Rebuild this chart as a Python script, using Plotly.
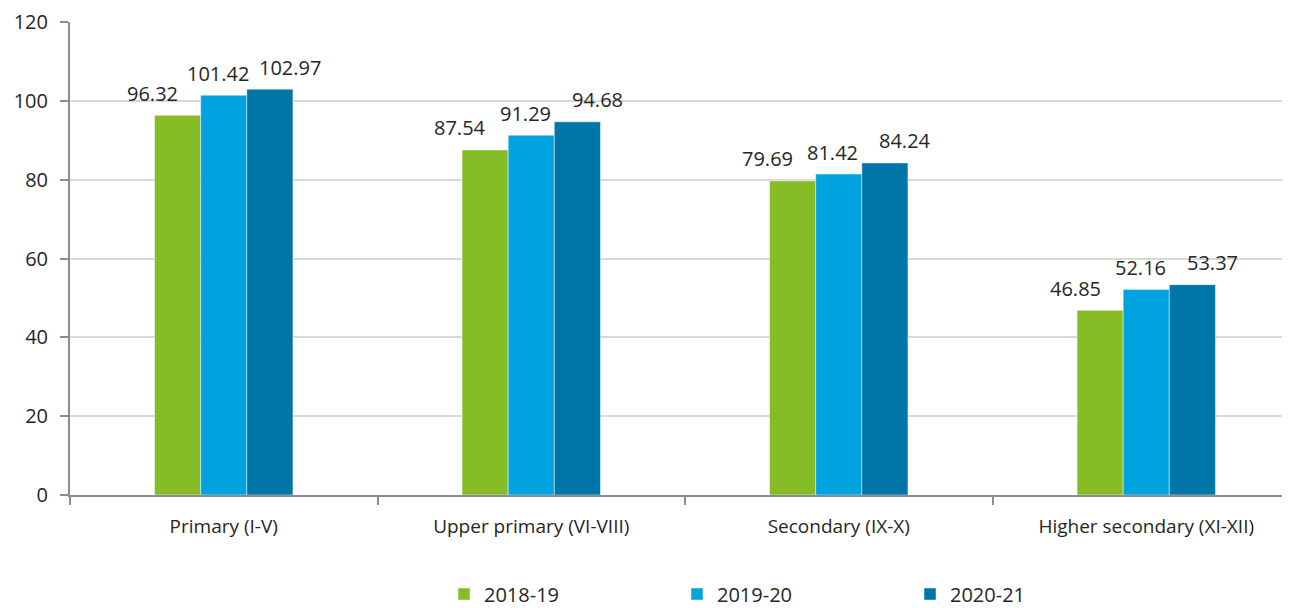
import plotly.graph_objects as go

categories = ["Primary (I-V)", "Upper primary (VI-VIII)", "Secondary (IX-X)", "Higher secondary (XI-XII)"]
series_names = ["2018-19", "2019-20", "2020-21"]
values_2018_19 = [96.32, 87.54, 79.69, 46.85]
values_2019_20 = [101.42, 91.29, 81.42, 52.16]
values_2020_21 = [102.97, 94.68, 84.24, 53.37]
y_ticks = [0, 20, 40, 60, 80, 100, 120]

series_values = [values_2018_19, values_2019_20, values_2020_21]
colors = ["#86bc25", "#00a3e0", "#0076a8"]
label_shift = [-25, -6, 20]

FONT = "Open Sans"
TXT = "#262626"
AX = "#8a8d91"

fig = go.Figure()
for name, vals, col in zip(series_names, series_values, colors):
    fig.add_trace(go.Bar(
        name=name, x=categories, y=vals,
        marker=dict(color=col, line=dict(color="rgba(255,255,255,0.45)", width=1)),
    ))

# data labels as annotations (positioned from data via the axes)
BAR_PX = 46  # approximate bar width in px for offset
for i, (vals, shift) in enumerate(zip(series_values, label_shift)):
    offset = (i - 1) * BAR_PX
    for c, v in zip(categories, vals):
        fig.add_annotation(
            x=c, y=v, xref="x", yref="y", text=f"{v:.2f}", showarrow=False,
            xshift=offset + shift, yshift=22, yanchor="middle",
            font=dict(family=FONT, size=20, color=TXT),
        )

n = len(categories)
# page body has an 8px margin; size figure so plot lands where reference has it
fig.update_layout(
    width=1282, height=600,
    margin=dict(l=62, r=0, t=14, b=113),
    plot_bgcolor="white", paper_bgcolor="white",
    barmode="group", bargap=0.55, bargroupgap=0,
    font=dict(family=FONT, size=18, color=TXT),
    showlegend=True,
    legend=dict(
        orientation="h", xref="container", yref="container",
        x=436 / 1282, xanchor="left", y=14 / 600, yanchor="middle",
        entrywidth=188, font=dict(family=FONT, size=20, color=TXT),
        itemwidth=30, traceorder="normal",
    ),
    xaxis=dict(
        type="category", range=[-0.5, n - 0.5 - 10 / 307.5],
        showline=True, linecolor=AX, linewidth=2,
        ticks="outside", tickson="boundaries", ticklen=8, tickcolor=AX, tickwidth=2,
        showgrid=False, ticklabelstandoff=13,
        tickfont=dict(family=FONT, size=19, color=TXT),
    ),
    yaxis=dict(
        range=[0, 120], tickvals=y_ticks,
        showline=True, linecolor=AX, linewidth=2,
        ticks="outside", ticklen=8, tickcolor=AX, tickwidth=2,
        showgrid=True, gridcolor="#d9d9d9", gridwidth=2,
        zeroline=False, ticklabelstandoff=8,
        tickfont=dict(family=FONT, size=20, color=TXT),
    ),
)

fig.write_html("out.html")
